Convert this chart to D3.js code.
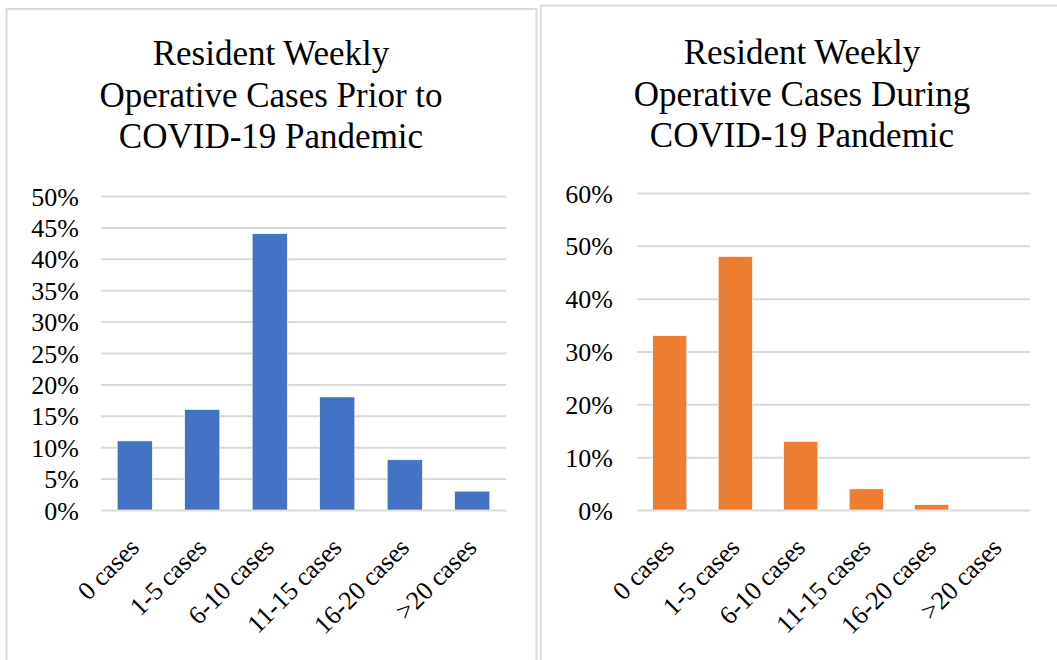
<!DOCTYPE html>
<html>
<head>
<meta charset="utf-8">
<script src="https://cdn.jsdelivr.net/npm/d3@7"></script>
<style>
  body { margin: 0; background: #fff; }
  svg { display: block; }
</style>
</head>
<body>
<svg id="chart" width="1057" height="660"></svg>
<script>
var categories = ["0 cases", "1-5 cases", "6-10 cases", "11-15 cases", "16-20 cases", ">20 cases"]
var priorValues = [0.11, 0.16, 0.44, 0.18, 0.08, 0.03]
var duringValues = [0.33, 0.48, 0.13, 0.04, 0.01, 0]
var priorTicks = [0, 0.05, 0.10, 0.15, 0.20, 0.25, 0.30, 0.35, 0.40, 0.45, 0.50]
var duringTicks = [0, 0.10, 0.20, 0.30, 0.40, 0.50, 0.60]
var priorTitle = ["Resident Weekly", "Operative Cases Prior to", "COVID-19 Pandemic"]
var duringTitle = ["Resident Weekly", "Operative Cases During", "COVID-19 Pandemic"]

var serif = "'Times New Roman', 'Liberation Serif', Tinos, 'Noto Serif', 'DejaVu Serif', Times, serif"
var svg = d3.select("#chart")

var panels = [
    {
        box: {x: 6.5, y: 9, w: 530, h: 700},
        title: priorTitle, titleX: 271, titleY: 65,
        values: priorValues, ticks: priorTicks, max: 0.5,
        left: 101, right: 506, top: 196, bottom: 510, labelX: 79,
        color: "#4472C4"
    },
    {
        box: {x: 541, y: 5.5, w: 600, h: 700},
        title: duringTitle, titleX: 802, titleY: 64,
        values: duringValues, ticks: duringTicks, max: 0.6,
        left: 637, right: 1030, top: 193, bottom: 510, labelX: 613,
        color: "#ED7D31"
    }
]

panels.forEach(function(p) {
    var g = svg.append("g").style("font-family", serif)

    g.append("rect")
     .attr("x", p.box.x)
     .attr("y", p.box.y)
     .attr("width", p.box.w)
     .attr("height", p.box.h)
     .attr("fill", "none")
     .attr("stroke", "#d9d9d9")
     .attr("stroke-width", 2)

    // title
    g.append("text")
     .attr("text-anchor", "middle")
     .style("font-family", serif)
     .attr("font-size", 35)
     .attr("fill", "#000")
     .selectAll("tspan")
     .data(p.title)
     .join("tspan")
     .attr("x", p.titleX)
     .attr("y", (d, i) => p.titleY + i * 41.5)
     .text(d => d)

    var xScale = d3.scaleBand()
                   .domain(categories)
                   .range([p.left, p.right])
                   .paddingInner(0.48)
                   .paddingOuter(0.24)

    var yScale = d3.scaleLinear()
                   .domain([0, p.max])
                   .range([p.bottom, p.top])

    // gridlines
    var yAxis = g.append("g")
                 .attr("transform", `translate(${p.left},0)`)
                 .call(d3.axisLeft(yScale)
                         .tickValues(p.ticks)
                         .tickSize(-(p.right - p.left))
                         .tickFormat(d3.format(".0%")))
    yAxis.select(".domain").remove()
    yAxis.selectAll(".tick line")
         .attr("stroke", "#d9d9d9")
         .attr("stroke-width", 2)
    yAxis.selectAll(".tick text")
         .attr("x", p.labelX - p.left)
         .attr("dy", "0.35em")
         .style("font-family", serif)
         .attr("font-size", 26)
         .attr("fill", "#000")

    g.selectAll(".bar")
     .data(p.values)
     .join("rect")
     .attr("x", (d, i) => xScale(categories[i]))
     .attr("y", d => yScale(d))
     .attr("width", xScale.bandwidth())
     .attr("height", d => yScale(0) - yScale(d))
     .attr("fill", p.color)
     .attr("stroke", d => d > 0 ? "#fff" : "none")
     .attr("stroke-width", 0.6)

    g.selectAll(".xlabel")
     .data(categories)
     .join("text")
     .attr("text-anchor", "end")
     .style("font-family", serif)
     .attr("font-size", 26)
     .attr("fill", "#000")
     .attr("transform", d => `translate(${xScale(d) + xScale.bandwidth() / 2 + 6},${p.bottom + 39}) rotate(-45)`)
     .text(d => d)
})
</script>
</body>
</html>
